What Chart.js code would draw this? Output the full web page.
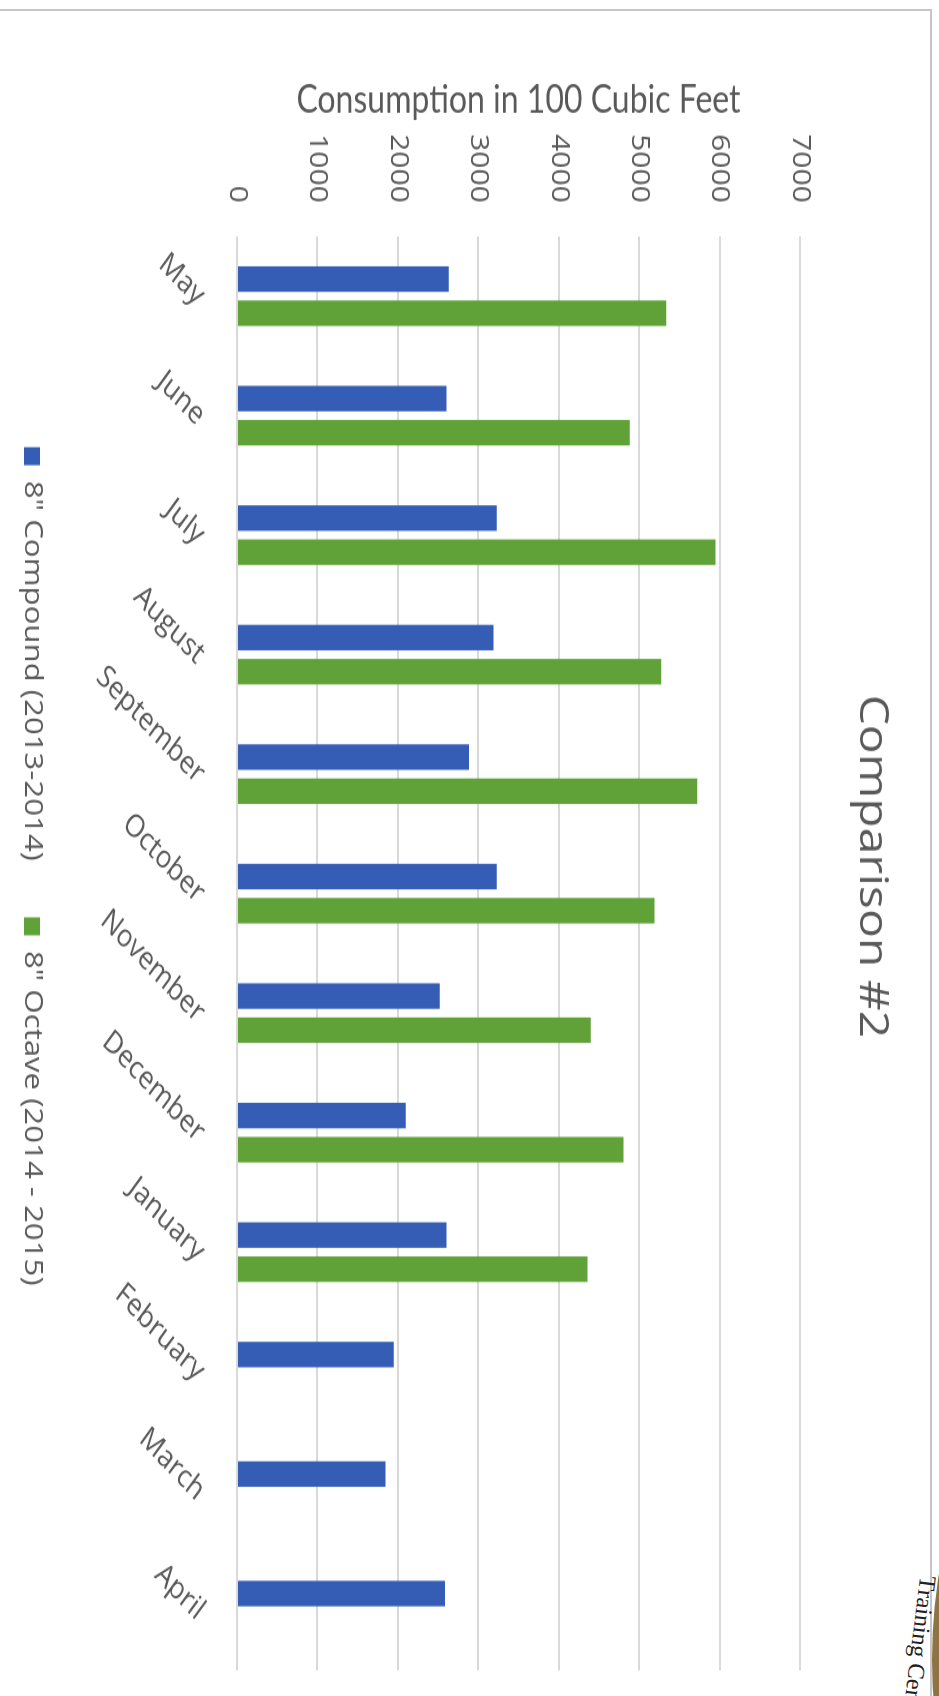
<!DOCTYPE html>
<html>
<head>
<meta charset="utf-8">
<script src="https://cdn.jsdelivr.net/npm/chart.js@4.4.1/dist/chart.umd.min.js"></script>
<style>
html,body{margin:0;padding:0;background:#fff;overflow:hidden;width:939px;height:1696px;}
#wrap{position:absolute;left:0;top:0;width:1444px;height:939px;transform-origin:0 0;transform:translateX(939px) rotate(90deg) scaleX(1.2);}
#frame{position:absolute;left:-4px;top:9px;width:934px;height:1700px;border-top:2px solid #c6c6c6;border-right:2px solid #c6c6c6;}
#logo{position:absolute;left:932px;top:1116px;width:1088px;height:1088px;border-radius:50%;background:#8f7443;}
#logotext{position:absolute;left:942px;top:1578px;transform-origin:0 0;transform:rotate(97deg);font-family:'Liberation Serif',serif;font-size:24px;line-height:28px;color:#222;white-space:nowrap;}
</style>
</head>
<body>
<div id="frame"></div>
<div id="logo"></div>
<div id="logotext">Training Cent</div>
<div id="wrap"><canvas id="c" width="1444" height="939"></canvas></div>
<script>
const months = ['May','June','July','August','September','October','November','December','January','February','March','April'];
const compound = [2633, 2604, 3230, 3188, 2886, 3230, 2521, 2098, 2604, 1949, 1845, 2587];
const octave = [5336, 4884, 5950, 5274, 5721, 5191, 4399, 4805, 4357, null, null, null];
const seriesNames = ['8" Compound (2013-2014)', '8" Octave (2014 - 2015)'];
const valueMin = 0, valueMax = 7000, valueStep = 1000;

const textColor = '#595959';
function draw() {
  new Chart(document.getElementById('c'), {
    type: 'bar',
    data: {
      labels: months,
      datasets: [
        {label: seriesNames[0], data: compound, backgroundColor: '#355db5', yAxisID: 'y', categoryPercentage: 0.571, barPercentage: 0.748},
        {label: seriesNames[1], data: octave, backgroundColor: '#60a238', yAxisID: 'y', categoryPercentage: 0.571, barPercentage: 0.748}
      ]
    },
    options: {
      responsive: false,
      animation: false,
      layout: {padding: {left: 0, right: 0, top: 0, bottom: 9}},
      plugins: {
        title: {display: true, text: 'Comparison #2', color: textColor, font: {family: 'Open Sans', size: 40, weight: 'normal'}, padding: {top: 44, bottom: 47}},
        legend: {position: 'bottom', labels: {boxWidth: 15, boxHeight: 16, padding: 47, color: textColor, font: {family: 'Open Sans', size: 26}}},
        tooltip: {enabled: false}
      },
      scales: {
        x: {
          grid: {display: false}, border: {display: false},
          ticks: {autoSkip: false, minRotation: 49, maxRotation: 49, padding: 18, labelOffset: 3, color: textColor, font: {family: 'Open Sans', size: 26}},
          afterFit: s => { s.height = 145; }
        },
        y: {
          min: valueMin, max: valueMax,
          ticks: {stepSize: valueStep, padding: 28, color: textColor, font: {family: 'Open Sans', size: 25}, callback: v => String(v)},
          grid: {color: '#d9d9d9', lineWidth: 2, drawTicks: false},
          border: {display: false},
          title: {display: true, text: 'Consumption in 100 Cubic Feet', color: textColor, font: {family: 'Lato', size: 32}, padding: {top: 64, bottom: 0}},
          afterFit: s => { s.width = 197; }
        },
        yR: {
          type: 'linear', position: 'right', display: true,
          grid: {display: false}, border: {display: false}, ticks: {display: false},
          afterFit: s => { s.width = 52; }
        }
      }
    }
  });
}
Promise.all([
  document.fonts.load('26px "Open Sans"'),
  document.fonts.load('32px "Lato"')
]).then(draw, draw);
</script>
</body>
</html>
